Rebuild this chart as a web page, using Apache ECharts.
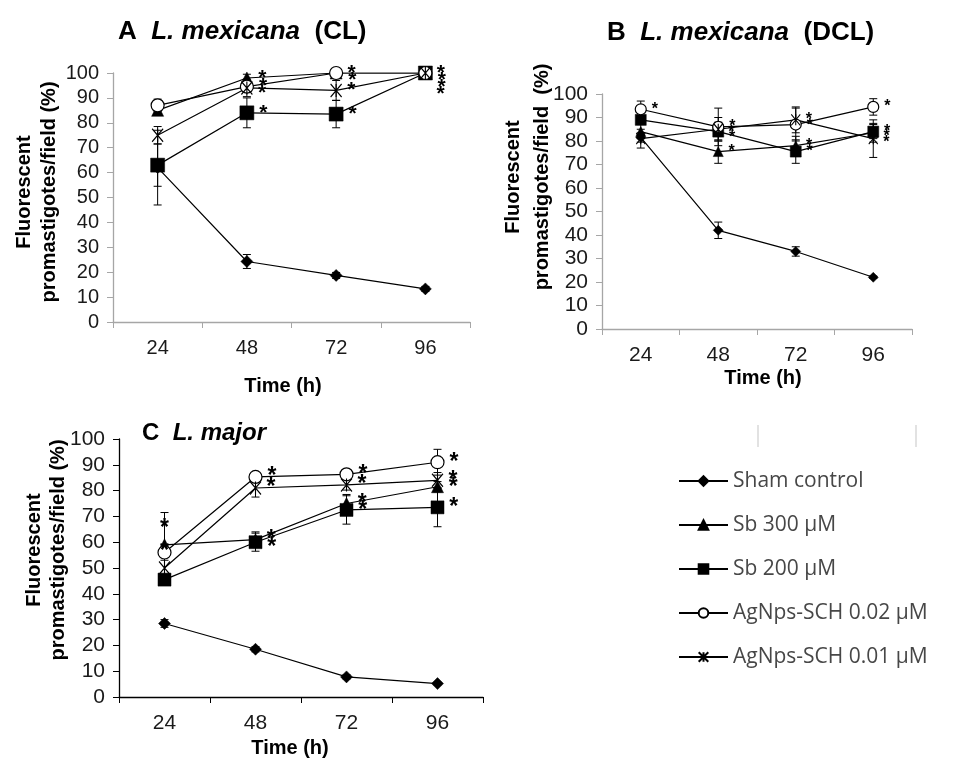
<!DOCTYPE html>
<html>
<head>
<meta charset="utf-8">
<script src="https://cdn.jsdelivr.net/npm/echarts@6/dist/echarts.min.js"></script>
<style>
  html, body { margin: 0; padding: 0; background: #fff; }
  #chart { width: 953px; height: 759px; }
</style>
</head>
<body>
<div id="chart"></div>
<script>
const categories = ['24', '48', '72', '96']
const seriesNames = ['Sham control', 'Sb 300 µM', 'Sb 200 µM', 'AgNps-SCH 0.02 µM', 'AgNps-SCH 0.01 µM']

// A  L. mexicana (CL)
const aSham = [62, 24.3, 18.7, 13.3]
const aSb300 = [85, 98, 100, 100]
const aSb200 = [63, 84, 83.5, 100]
const aAg002 = [87, 94.5, 100, 100]
const aAg001 = [75, 94, 93, 100]
const aShamErr = [15, 2.8, 1.2, 1]
const aSb300Err = [2, 1.5, 0, 0]
const aSb200Err = [8.5, 6, 5.5, 0]
const aAg002Err = [2.5, 2, 0, 0]
const aAg001Err = [3.5, 3.5, 4, 0]
const aStars = [[0, 0, 0, 0], [0, 1, 1, 1], [0, 1, 1, 1], [0, 1, 1, 1], [0, 1, 1, 1]]

// B  L. mexicana (DCL)
const bSham = [81.5, 42, 33, 22]
const bSb300 = [84, 75.5, 78, 83.5]
const bSb200 = [89, 84, 75.5, 84]
const bAg002 = [93.5, 86, 87, 94.5]
const bAg001 = [81, 85, 89, 81]
const bShamErr = [2, 3.5, 2, 0.5]
const bSb300Err = [3, 5, 4, 4]
const bSb200Err = [2, 4, 5, 3]
const bAg002Err = [3.5, 8, 7, 3.5]
const bAg001Err = [4, 5, 5.5, 8]
const bStars = [[0, 0, 0, 0], [0, 1, 1, 1], [0, 1, 1, 1], [1, 1, 1, 1], [0, 1, 1, 1]]

// C  L. major
const cSham = [28.5, 18.5, 7.8, 5.2]
const cSb300 = [59, 61, 75, 81.5]
const cSb200 = [45.5, 60, 72.5, 73.5]
const cAg002 = [56, 85.3, 86.3, 91]
const cAg001 = [50, 81, 82.2, 84]
const cShamErr = [1.5, 1, 0.8, 0.5]
const cSb300Err = [12.5, 3, 3.5, 2]
const cSb200Err = [1.5, 3.5, 5.5, 7.5]
const cAg002Err = [2, 1, 1, 5]
const cAg001Err = [3, 3.5, 2, 3]
const cStars = [[0, 0, 0, 0], [1, 1, 1, 1], [0, 1, 1, 1], [0, 1, 1, 1], [1, 1, 1, 1]]

const FONT = '"Liberation Sans", Arial, sans-serif'
const crossPath = 'path://M0,0L10,10M10,0L0,10M5,0L5,10'

const panels = [
  { values: [aSham, aSb300, aSb200, aAg002, aAg001], errs: [aShamErr, aSb300Err, aSb200Err, aAg002Err, aAg001Err], stars: aStars,
    grid: { left: 113, top: 73, width: 357, height: 249 }, axisColor: '#a6a6a6', labelSize: 20, starSize: 21,
    sizes: [12, 12, 14, 13, [11, 13]], nameGap: 54, namePad: [0, 17, 0, 0] },
  { values: [bSham, bSb300, bSb200, bAg002, bAg001], errs: [bShamErr, bSb300Err, bSb200Err, bAg002Err, bAg001Err], stars: bStars,
    grid: { left: 602, top: 94, width: 310, height: 235 }, axisColor: '#a6a6a6', labelSize: 21, starSize: 16,
    sizes: [10, 10, 11, 11, [9, 11]], nameGap: 39, namePad: [0, 0, 0, 12] },
  { values: [cSham, cSb300, cSb200, cAg002, cAg001], errs: [cShamErr, cSb300Err, cSb200Err, cAg002Err, cAg001Err], stars: cStars,
    grid: { left: 119, top: 439, width: 364, height: 259 }, axisColor: '#000', labelSize: 21, starSize: 23,
    sizes: [12, 12, 13, 13, [11, 13]], nameGap: 41, namePad: [0, 22, 0, 0] }
]

const symbols = ['diamond', 'triangle', 'rect', 'circle', crossPath]
const fills = ['#000', '#000', '#000', '#fff', 'transparent']

// push stacked asterisks apart so they read as a column, like the original
function starOffsets(p) {
  const ppu = p.grid.height / 100
  const gap = p.starSize * 0.33
  const offs = p.values.map(() => [0, 0, 0, 0])
  categories.forEach((c, i) => {
    const list = p.values.map((vals, si) => ({ si, v: vals[i] }))
      .filter(d => p.stars[d.si][i])
      .sort((a, b) => b.v - a.v)
    let prev = -1e9
    list.forEach(d => {
      const base = (100 - d.v) * ppu
      const y = Math.max(base, prev + gap)
      offs[d.si][i] = y - base
      prev = y
    })
  })
  return offs
}

const chart = echarts.init(document.getElementById('chart'))

const grids = []
const xAxes = []
const yAxes = []
const series = []

panels.forEach((p, pi) => {
  grids.push(p.grid)
  xAxes.push({
    type: 'category', gridIndex: pi, data: categories, boundaryGap: true,
    name: 'Time (h)', nameLocation: 'middle', nameGap: p.nameGap,
    nameTextStyle: { fontFamily: FONT, fontWeight: 'bold', fontSize: 20, color: '#000', padding: p.namePad },
    axisLine: { lineStyle: { color: p.axisColor, width: 1.3 } },
    axisTick: { show: true, length: 6, lineStyle: { color: p.axisColor } },
    axisLabel: { fontFamily: FONT, fontSize: p.labelSize, color: '#1a1a1a', margin: 16 },
    splitLine: { show: false }
  })
  yAxes.push({
    type: 'value', gridIndex: pi, min: 0, max: 100, interval: 10,
    axisLine: { show: true, lineStyle: { color: p.axisColor, width: 1.3 } },
    axisTick: { show: true, length: 6, lineStyle: { color: p.axisColor } },
    axisLabel: { fontFamily: FONT, fontSize: p.labelSize, color: '#1a1a1a', margin: 14 },
    splitLine: { show: false }
  })

  const offs = starOffsets(p)

  p.values.forEach((vals, si) => {
    // error bars
    series.push({
      type: 'custom', name: 'err', xAxisIndex: pi, yAxisIndex: pi, z: 1, silent: true,
      data: vals.map((v, i) => [i, v, p.errs[si][i]]),
      renderItem(params, api) {
        const e = api.value(2)
        if (!e) return null
        const x = api.value(0)
        const v = api.value(1)
        const top = api.coord([x, v + e])
        const bot = api.coord([x, v - e])
        const w = 4
        const st = { stroke: '#000', lineWidth: 1 }
        return {
          type: 'group',
          children: [
            { type: 'line', shape: { x1: top[0], y1: top[1], x2: bot[0], y2: bot[1] }, style: st },
            { type: 'line', shape: { x1: top[0] - w, y1: top[1], x2: top[0] + w, y2: top[1] }, style: st },
            { type: 'line', shape: { x1: bot[0] - w, y1: bot[1], x2: bot[0] + w, y2: bot[1] }, style: st }
          ]
        }
      }
    })
    series.push({
      type: 'line', name: seriesNames[si], xAxisIndex: pi, yAxisIndex: pi, z: 3,
      symbol: symbols[si], symbolSize: p.sizes[si], showAllSymbol: true,
      lineStyle: { color: '#000', width: 1.2 },
      itemStyle: { color: fills[si], borderColor: '#000', borderWidth: si >= 3 ? 1.2 : 0.5, opacity: 1 },
      label: {
        show: false, formatter: '*', position: 'right', distance: 5,
        fontFamily: FONT, fontWeight: 'bold', fontSize: p.starSize, color: '#000'
      },
      labelLayout(params) {
        return { dy: offs[si][params.dataIndex] || 0, hideOverlap: false }
      },
      emphasis: { disabled: true },
      data: vals.map((v, i) => {
        const item = { value: v }
        if (p.stars[si][i]) {
          item.label = { show: true }
          if (pi === 2 && i === 0) item.label = { show: true, position: 'top', distance: -2 }
        }
        return item
      })
    })
  })
})

const titleRich = size => ({
  b: { fontFamily: FONT, fontWeight: 'bold', fontSize: size, color: '#000' },
  i: { fontFamily: FONT, fontWeight: 'bold', fontStyle: 'italic', fontSize: size, color: '#000' }
})

const yLabel = (x1, x2, y, t2) => [
  { type: 'text', x: x1, y: y, rotation: Math.PI / 2,
    style: { text: 'Fluorescent', font: 'bold 20px ' + FONT, fill: '#000', align: 'center', verticalAlign: 'middle' } },
  { type: 'text', x: x2, y: y, rotation: Math.PI / 2,
    style: { text: t2, font: 'bold 20px ' + FONT, fill: '#000', align: 'center', verticalAlign: 'middle' } }
]

const option = {
  backgroundColor: '#fff',
  animation: false,
  title: [
    { left: 113, top: 14, text: '{b|A  }{i|L. mexicana}{b|  (CL)}', textStyle: { rich: titleRich(26) } },
    { left: 602, top: 15, text: '{b|B  }{i|L. mexicana}{b|  (DCL)}', textStyle: { rich: titleRich(26) } },
    { left: 137, top: 416, text: '{b|C  }{i|L. major}', textStyle: { rich: titleRich(24) } }
  ],
  legend: {
    orient: 'vertical', left: 678, top: 469, padding: 0, itemWidth: 49, itemHeight: 12, itemGap: 20,
    data: seriesNames,
    textStyle: { fontFamily: '"Open Sans", sans-serif', fontSize: 21, color: '#474747', lineHeight: 24 },
    selectedMode: false
  },
  grid: grids,
  xAxis: xAxes,
  yAxis: yAxes,
  series: series,
  graphic: [
    ...yLabel(24, 49, 192, 'promastigotes/field (%)'),
    ...yLabel(513, 542, 177, 'promastigotes/field  (%)'),
    ...yLabel(34, 58, 550, 'promastigotes/field (%)'),
    { type: 'line', shape: { x1: 758, y1: 425, x2: 758, y2: 447 }, style: { stroke: '#d9d9d9', lineWidth: 1.5 } },
    { type: 'line', shape: { x1: 916, y1: 425, x2: 916, y2: 447 }, style: { stroke: '#d9d9d9', lineWidth: 1.5 } }
  ]
}

chart.setOption(option)
</script>
</body>
</html>
